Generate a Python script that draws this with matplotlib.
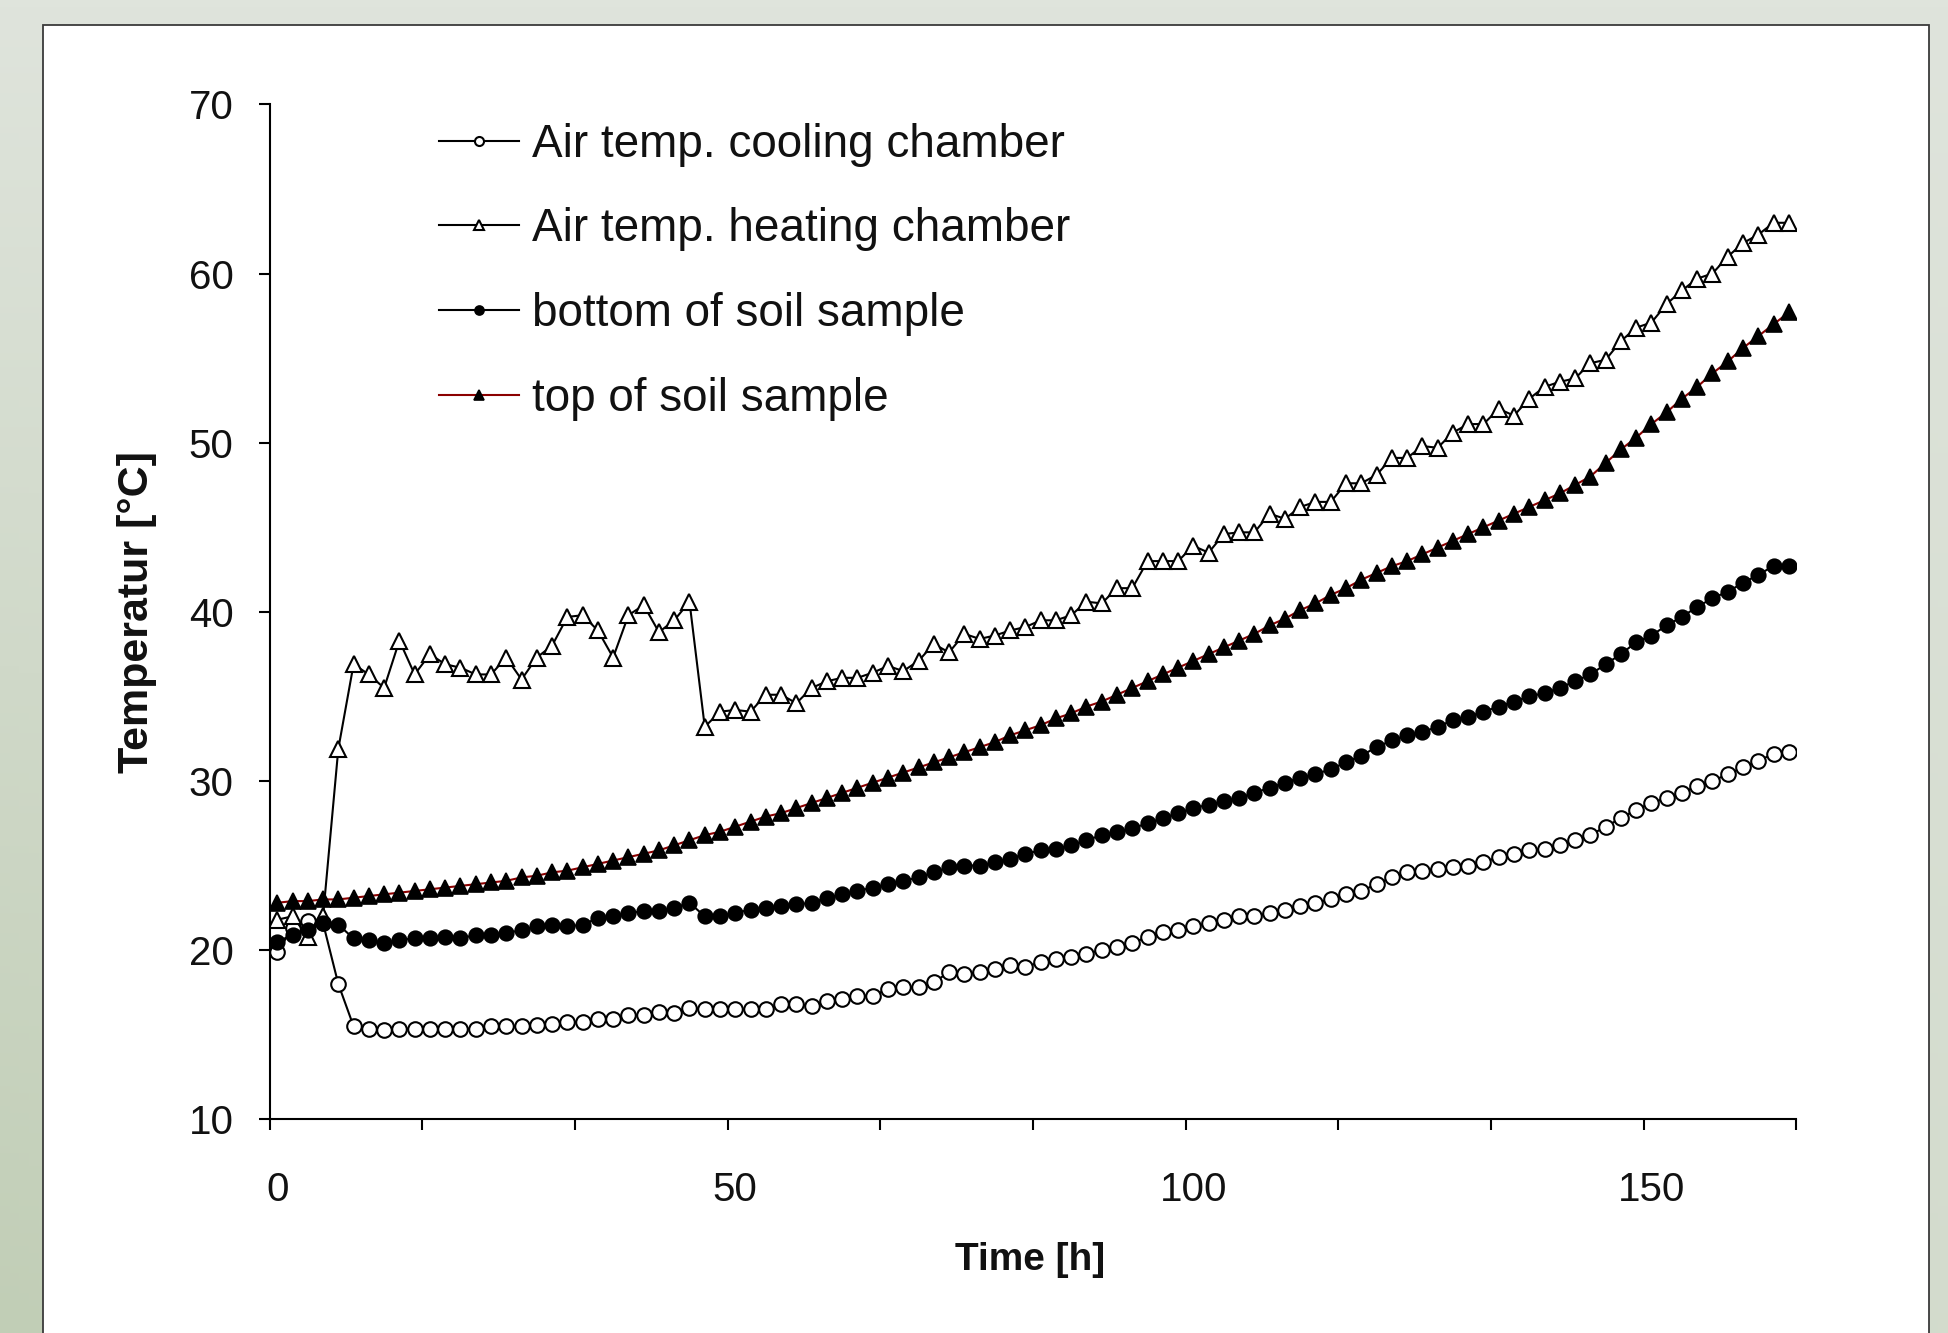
import numpy as np
import matplotlib.pyplot as plt
from matplotlib.patches import Rectangle

plt.rcParams["font.family"] = ["Liberation Sans", "DejaVu Sans"]

# readings every 100 min (1.667 h), 100 samples
step_h = 5 / 3
t = np.arange(100) * step_h

cooling = [19.9, 21.3, 21.7, 21.6, 18.0, 15.5, 15.35, 15.3, 15.35, 15.35,
           15.35, 15.35, 15.35, 15.35, 15.5, 15.5, 15.5, 15.55, 15.65, 15.75,
           15.75, 15.95, 15.95, 16.15, 16.15, 16.35, 16.3, 16.6, 16.5, 16.5,
           16.5, 16.5, 16.5, 16.8, 16.8, 16.7, 17.0, 17.1, 17.3, 17.3,
           17.7, 17.8, 17.8, 18.1, 18.7, 18.6, 18.7, 18.9, 19.1, 19.0,
           19.3, 19.5, 19.6, 19.8, 20.0, 20.2, 20.4, 20.8, 21.1, 21.2,
           21.4, 21.6, 21.8, 22.0, 22.0, 22.2, 22.4, 22.6, 22.8, 23.0,
           23.3, 23.5, 23.9, 24.3, 24.6, 24.7, 24.8, 24.9, 25.0, 25.2,
           25.5, 25.7, 25.9, 26.0, 26.2, 26.5, 26.8, 27.3, 27.8, 28.3,
           28.7, 29.0, 29.3, 29.7, 30.0, 30.4, 30.8, 31.2, 31.6, 31.7]

heating = [21.8, 22.0, 20.8, 22.0, 31.9, 36.9, 36.3, 35.5, 38.3, 36.3,
           37.5, 36.9, 36.7, 36.3, 36.3, 37.3, 36.0, 37.3, 38.0, 39.7,
           39.8, 38.9, 37.3, 39.8, 40.4, 38.8, 39.5, 40.6, 33.2, 34.1,
           34.2, 34.1, 35.1, 35.1, 34.6, 35.5, 35.9, 36.1, 36.1, 36.4,
           36.8, 36.5, 37.1, 38.1, 37.6, 38.7, 38.4, 38.6, 38.9, 39.1,
           39.5, 39.5, 39.8, 40.6, 40.5, 41.4, 41.4, 43.0, 43.0, 43.0,
           43.9, 43.5, 44.6, 44.7, 44.7, 45.8, 45.5, 46.2, 46.5, 46.5,
           47.6, 47.6, 48.1, 49.1, 49.1, 49.8, 49.7, 50.6, 51.1, 51.1,
           52.0, 51.6, 52.6, 53.3, 53.6, 53.8, 54.7, 54.9, 56.0, 56.8,
           57.1, 58.2, 59.0, 59.7, 60.0, 61.0, 61.8, 62.3, 63.0, 63.0]

bottom = [20.5, 20.9, 21.2, 21.6, 21.5, 20.7, 20.6, 20.4, 20.6, 20.7,
          20.7, 20.8, 20.7, 20.9, 20.9, 21.0, 21.2, 21.4, 21.5, 21.4,
          21.5, 21.9, 22.0, 22.2, 22.3, 22.3, 22.5, 22.8, 22.0, 22.0,
          22.2, 22.4, 22.5, 22.6, 22.7, 22.8, 23.1, 23.3, 23.5, 23.7,
          23.9, 24.1, 24.3, 24.6, 24.9, 25.0, 25.0, 25.2, 25.4, 25.7,
          25.9, 26.0, 26.2, 26.5, 26.8, 27.0, 27.2, 27.5, 27.8, 28.1,
          28.4, 28.6, 28.8, 29.0, 29.3, 29.6, 29.9, 30.2, 30.4, 30.7,
          31.1, 31.5, 32.0, 32.4, 32.7, 32.9, 33.2, 33.6, 33.8, 34.1,
          34.4, 34.7, 35.0, 35.2, 35.5, 35.9, 36.3, 36.9, 37.5, 38.2,
          38.6, 39.2, 39.7, 40.3, 40.8, 41.2, 41.7, 42.2, 42.7, 42.7]

top = [22.8, 22.9, 22.9, 23.0, 23.0, 23.1, 23.2, 23.3, 23.4, 23.5,
       23.6, 23.7, 23.8, 23.9, 24.0, 24.1, 24.3, 24.4, 24.6, 24.7,
       24.9, 25.1, 25.3, 25.5, 25.7, 25.9, 26.2, 26.5, 26.8, 27.0,
       27.3, 27.6, 27.9, 28.1, 28.4, 28.7, 29.0, 29.3, 29.6, 29.9,
       30.2, 30.5, 30.8, 31.1, 31.4, 31.7, 32.0, 32.3, 32.7, 33.0,
       33.3, 33.7, 34.0, 34.4, 34.7, 35.1, 35.5, 35.9, 36.3, 36.7,
       37.1, 37.5, 37.9, 38.3, 38.7, 39.2, 39.6, 40.1, 40.5, 41.0,
       41.4, 41.9, 42.3, 42.7, 43.0, 43.4, 43.8, 44.2, 44.6, 45.0,
       45.4, 45.8, 46.2, 46.6, 47.0, 47.5, 48.0, 48.8, 49.6, 50.3,
       51.1, 51.8, 52.6, 53.3, 54.1, 54.8, 55.6, 56.3, 57.0, 57.7]

labels = ['Air temp. cooling chamber', 'Air temp. heating chamber',
          'bottom of soil sample', 'top of soil sample']
xtick_vals = [0, 50, 100, 150]
ytick_vals = [10, 20, 30, 40, 50, 60, 70]

fig = plt.figure(figsize=(19.48, 13.33), dpi=100)

# greyish-green slide background with the white panel
bg = fig.add_axes([0, 0, 1, 1])
yy, xx = np.mgrid[0:1:200j, 0:1:200j]
r = 223 - 30 * yy * (1 - 0.6 * xx)
g = 228 - 22 * yy * (1 - 0.6 * xx)
b = 220 - 38 * yy * (1 - 0.6 * xx)
bg.imshow(np.dstack([r, g, b]) / 255, extent=[0, 1, 0, 1], aspect='auto', origin='upper')
bg.add_patch(Rectangle((0.0223, -0.02), 0.9681, 1.0014, facecolor='white',
                       edgecolor='#3a3a3a', lw=1.3))
bg.set_xlim(0, 1)
bg.set_ylim(0, 1)
bg.axis('off')

ax = fig.add_axes([0.1384, 0.1603, 0.7838, 0.7614])
ax.set_facecolor('none')

ms = 10.5
ax.plot(t, cooling, color='black', lw=1.5, marker='o', ms=ms, mfc='white',
        mec='black', mew=1.5, label=labels[0])
ax.plot(t, heating, color='black', lw=1.5, marker='^', ms=ms + 1, mfc='white',
        mec='black', mew=1.5, label=labels[1])
ax.plot(t, bottom, color='black', lw=1.5, marker='o', ms=ms, mfc='black',
        mec='black', mew=1.2, label=labels[2])
ax.plot(t, top, color='#8b0000', lw=1.5, marker='^', ms=ms + 1, mfc='black',
        mec='black', mew=1.2, label=labels[3])

ax.set_xlim(-0.5 * step_h, 99.5 * step_h)
ax.set_ylim(10, 70)
ax.set_xticks(xtick_vals)
ax.set_xticks((np.arange(11) * 10 - 0.5) * step_h, minor=True)
ax.set_yticks(ytick_vals)
ax.tick_params(axis='x', which='major', length=0, pad=37, labelsize=29,
               labelcolor='#111111')
ax.tick_params(axis='x', which='minor', length=8, width=1.5, direction='out')
ax.tick_params(axis='y', length=8, width=1.5, direction='out', pad=18,
               labelsize=29, labelcolor='#111111')

for s in ['top', 'right']:
    ax.spines[s].set_visible(False)
for s in ['left', 'bottom']:
    ax.spines[s].set_linewidth(1.5)

ax.set_xlabel('Time [h]', fontsize=28, fontweight='bold', color='#111111')
ax.set_ylabel('Temperatur [°C]', fontsize=31, fontweight='bold', color='#111111')
ax.xaxis.set_label_coords(0.498, -0.139)
ax.yaxis.set_label_coords(-0.087, 0.50)
ax.xaxis.label.set_va('center')
ax.yaxis.label.set_va('center')

ax.legend(loc='upper left', bbox_to_anchor=(0.1107, 0.982), frameon=False,
          fontsize=33, handlelength=1.75, handletextpad=0.28, labelspacing=0.89,
          borderpad=0, borderaxespad=0, markerscale=0.62, labelcolor='#111111')

fig.savefig('out.png', dpi=100)
